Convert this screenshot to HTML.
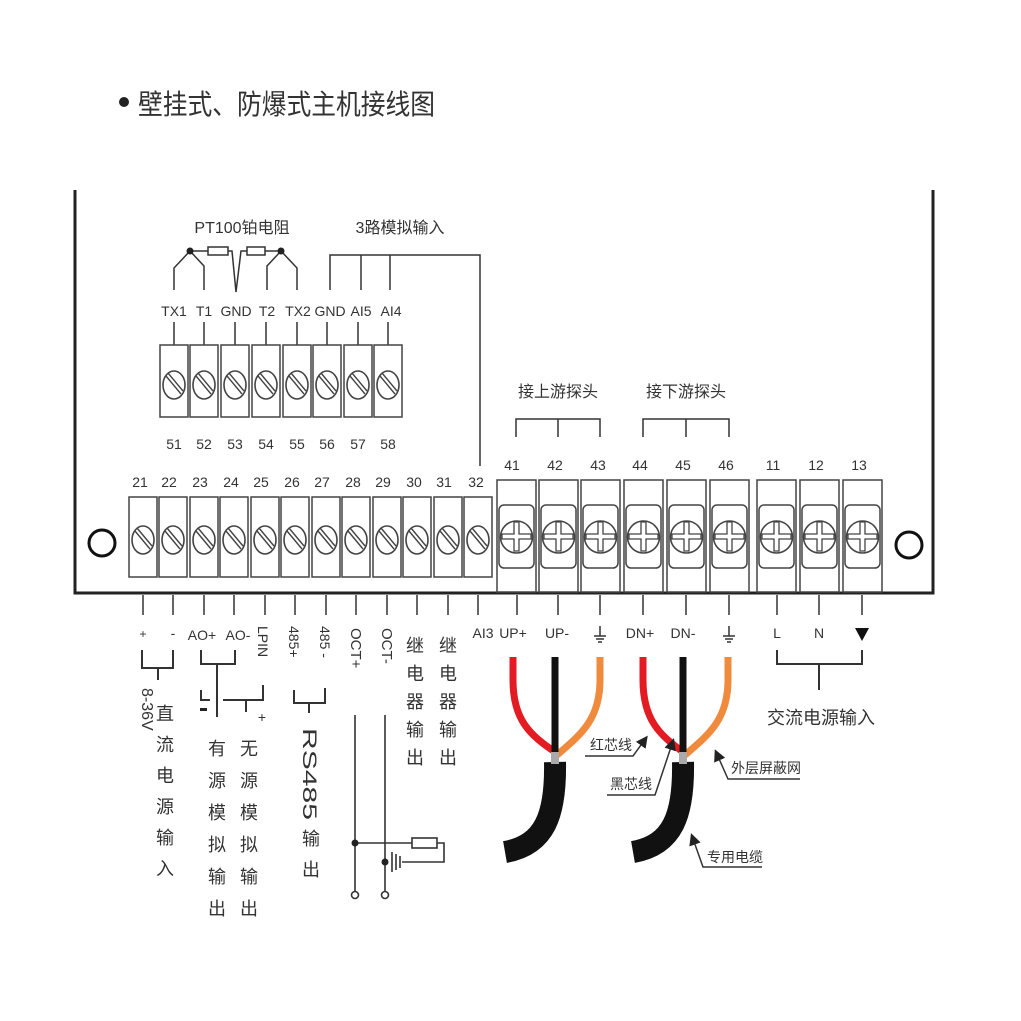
<!DOCTYPE html>
<html><head><meta charset="utf-8"><style>
html,body{margin:0;padding:0;background:#fff;}
svg{display:block;}
text{font-family:"Liberation Sans","Noto Sans CJK SC",sans-serif;fill:#333;}
.cj{font-family:"Noto Sans CJK SC","WenQuanYi Zen Hei",sans-serif;}
</style></head><body>
<svg width="1021" height="1021" viewBox="0 0 1021 1021" xmlns="http://www.w3.org/2000/svg">
<defs>
<g id="st">
<rect x="0" y="0" width="28" height="80" fill="#fff" stroke="#444" stroke-width="1.5"/>
<ellipse cx="14" cy="43" rx="11" ry="14" fill="none" stroke="#444" stroke-width="1.6"/>
<line x1="6" y1="34" x2="21" y2="52" stroke="#444" stroke-width="1.4"/>
<line x1="8" y1="31" x2="23" y2="49" stroke="#444" stroke-width="1.4"/>
</g>
<g id="st2">
<rect x="0" y="0" width="28" height="72" fill="#fff" stroke="#444" stroke-width="1.5"/>
<ellipse cx="14" cy="40" rx="11" ry="14" fill="none" stroke="#444" stroke-width="1.6"/>
<line x1="6" y1="31" x2="21" y2="49" stroke="#444" stroke-width="1.4"/>
<line x1="8" y1="28" x2="23" y2="46" stroke="#444" stroke-width="1.4"/>
</g>
<g id="ct">
<rect x="0" y="0" width="39" height="112" fill="#fff" stroke="#444" stroke-width="1.5"/>
<rect x="2" y="25" width="35" height="63" rx="5" fill="none" stroke="#444" stroke-width="1.5"/>
<circle cx="19.5" cy="57" r="16" fill="none" stroke="#444" stroke-width="1.6"/>
<path d="M17 42 h5 v12 h12 v5 h-12 v12 h-5 v-12 h-12 v-5 h12 z" fill="none" stroke="#444" stroke-width="1.3"/>
</g>
<marker id="ar" markerWidth="8" markerHeight="8" refX="6" refY="4" orient="auto"><path d="M0 0 L8 4 L0 8 z" fill="#222"/></marker>
</defs>

<circle cx="124" cy="102" r="5" fill="#222"/>
<text x="138" y="114" class="cj" font-size="28" textLength="297" lengthAdjust="spacingAndGlyphs" fill="#333">壁挂式、防爆式主机接线图</text>

<path d="M75 190 V593 H933 V190" fill="none" stroke="#222" stroke-width="3"/>
<circle cx="102" cy="543" r="13" fill="none" stroke="#111" stroke-width="3"/>
<circle cx="909" cy="545" r="13" fill="none" stroke="#111" stroke-width="3"/>

<text x="242" y="233" font-size="16" text-anchor="middle">PT100<tspan class="cj">铂电阻</tspan></text>
<text x="400" y="233" font-size="16" text-anchor="middle">3<tspan class="cj">路模拟输入</tspan></text>
<path d="M330 290 V255 H480 V466 M361 255 V290 M390 255 V290" fill="none" stroke="#333" stroke-width="1.5"/>

<g fill="none" stroke="#333" stroke-width="1.5">
<path d="M190 251 L174 268 V290 M190 251 L204 266 V290"/>
<path d="M190 251 H208 M228 251 H232 L236 292 L241 251 H247 M265 251 H281"/>
<rect x="208" y="247" width="20" height="8"/>
<rect x="247" y="247" width="18" height="8"/>
<path d="M281 251 L267 266 V290 M281 251 L297 268 V290"/>
</g>
<circle cx="190" cy="251" r="3.5" fill="#222"/>
<circle cx="281" cy="251" r="3.5" fill="#222"/>

<g font-size="14" text-anchor="middle">
<text x="174" y="316">TX1</text><text x="204" y="316">T1</text><text x="236" y="316">GND</text><text x="267" y="316">T2</text>
<text x="298" y="316">TX2</text><text x="330" y="316">GND</text><text x="361" y="316">AI5</text><text x="391" y="316">AI4</text>
</g>
<path d="M174 322V345 M204 322V345 M235 322V345 M266 322V345 M297 322V345 M327 322V345 M358 322V345 M388 322V345" stroke="#333" stroke-width="1.5"/>

<use href="#st2" x="160" y="345"/><use href="#st2" x="190" y="345"/><use href="#st2" x="221" y="345"/><use href="#st2" x="252" y="345"/>
<use href="#st2" x="283" y="345"/><use href="#st2" x="313" y="345"/><use href="#st2" x="344" y="345"/><use href="#st2" x="374" y="345"/>
<g font-size="14" text-anchor="middle">
<text x="174" y="449">51</text><text x="204" y="449">52</text><text x="235" y="449">53</text><text x="266" y="449">54</text>
<text x="297" y="449">55</text><text x="327" y="449">56</text><text x="358" y="449">57</text><text x="388" y="449">58</text>
</g>

<g>
<use href="#st" x="129" y="497"/><use href="#st" x="159" y="497"/><use href="#st" x="190" y="497"/><use href="#st" x="220" y="497"/>
<use href="#st" x="251" y="497"/><use href="#st" x="281" y="497"/><use href="#st" x="312" y="497"/><use href="#st" x="342" y="497"/>
<use href="#st" x="373" y="497"/><use href="#st" x="403" y="497"/><use href="#st" x="434" y="497"/><use href="#st" x="464" y="497"/>
</g>
<g font-size="14" text-anchor="middle">
<text x="140" y="487">21</text><text x="169" y="487">22</text><text x="200" y="487">23</text><text x="231" y="487">24</text>
<text x="261" y="487">25</text><text x="292" y="487">26</text><text x="322" y="487">27</text><text x="353" y="487">28</text>
<text x="383" y="487">29</text><text x="414" y="487">30</text><text x="444" y="487">31</text><text x="476" y="487">32</text>
</g>

<use href="#ct" x="497" y="480"/><use href="#ct" x="539" y="480"/><use href="#ct" x="581" y="480"/>
<use href="#ct" x="624" y="480"/><use href="#ct" x="667" y="480"/><use href="#ct" x="710" y="480"/>
<use href="#ct" x="757" y="480"/><use href="#ct" x="800" y="480"/><use href="#ct" x="843" y="480"/>
<g font-size="14" text-anchor="middle">
<text x="512" y="470">41</text><text x="555" y="470">42</text><text x="598" y="470">43</text>
<text x="640" y="470">44</text><text x="683" y="470">45</text><text x="726" y="470">46</text>
<text x="773" y="470">11</text><text x="816" y="470">12</text><text x="859" y="470">13</text>
</g>
<text x="558" y="397" class="cj" font-size="16" text-anchor="middle">接上游探头</text>
<text x="686" y="397" class="cj" font-size="16" text-anchor="middle">接下游探头</text>
<path d="M516 437V419H600V437 M558 419V437 M643 437V419H729V437 M686 419V437" fill="none" stroke="#333" stroke-width="1.5"/>

<path d="M143 595V615 M173 595V615 M204 595V615 M234 595V615 M265 595V615 M295 595V615 M326 595V615 M356 595V615 M387 595V615 M417 595V615 M448 595V615 M478 595V615 M517 595V615 M558 595V615 M600 595V615 M643 595V615 M686 595V615 M729 595V615 M777 595V615 M819 595V615 M862 595V615" stroke="#333" stroke-width="1.5"/>

<text x="143" y="638" font-size="12" text-anchor="middle">+</text>
<text x="173" y="638" font-size="14" text-anchor="middle">-</text>
<path d="M142 650V668H173V650 M158 668V680" fill="none" stroke="#333" stroke-width="2"/>
<text transform="translate(142,688) rotate(90)" font-size="16">8-36V</text>
<g class="cj" font-size="18" text-anchor="middle">
<text x="165" y="720">直</text><text x="165" y="751">流</text><text x="165" y="782">电</text>
<text x="165" y="813">源</text><text x="165" y="844">输</text><text x="165" y="875">入</text>
</g>

<text x="202" y="640" font-size="14" text-anchor="middle">AO+</text>
<text x="238" y="640" font-size="14" text-anchor="middle">AO-</text>
<text transform="translate(258,626) rotate(90)" font-size="14">LPIN</text>
<path d="M201 650V664H235V650 M217 664V717 M201 690V700H210 M223 700H263V685 M246 700V712" fill="none" stroke="#333" stroke-width="2"/>
<rect x="200" y="708" width="7" height="3" fill="#222"/>
<text x="262" y="722" font-size="14" text-anchor="middle">+</text>
<g class="cj" font-size="18" text-anchor="middle">
<text x="217" y="755">有</text><text x="217" y="787">源</text><text x="217" y="819">模</text><text x="217" y="851">拟</text><text x="217" y="883">输</text><text x="217" y="915">出</text>
<text x="249" y="755">无</text><text x="249" y="787">源</text><text x="249" y="819">模</text><text x="249" y="851">拟</text><text x="249" y="883">输</text><text x="249" y="915">出</text>
</g>

<text transform="translate(289,626) rotate(90)" font-size="14">485+</text>
<text transform="translate(320,626) rotate(90)" font-size="14">485 -</text>
<path d="M294 690V703H325V688 M309 703V713" fill="none" stroke="#333" stroke-width="2"/>
<text transform="translate(303,728) rotate(90)" font-size="19" textLength="92" lengthAdjust="spacingAndGlyphs">RS485</text>
<text x="311" y="845" class="cj" font-size="18" text-anchor="middle">输</text>
<text x="311" y="876" class="cj" font-size="18" text-anchor="middle">出</text>

<text transform="translate(351,628) rotate(90)" font-size="15">OCT+</text>
<text transform="translate(382,628) rotate(90)" font-size="15">OCT-</text>
<g fill="none" stroke="#333" stroke-width="1.6">
<path d="M355 715V891 M385 715V891"/>
<path d="M355 843H412 M437 843H444V862H402"/>
<rect x="412" y="838" width="25" height="10"/>
<path d="M392 852V872 M396 854V870 M400 856V868"/>
<circle cx="355" cy="895" r="3.5"/><circle cx="385" cy="895" r="3.5"/>
</g>
<circle cx="355" cy="843" r="3.5" fill="#222"/>
<circle cx="385" cy="862" r="3.5" fill="#222"/>

<g class="cj" font-size="18" text-anchor="middle">
<text x="415" y="652">继</text><text x="415" y="680">电</text><text x="415" y="708">器</text><text x="415" y="736">输</text><text x="415" y="764">出</text>
<text x="448" y="652">继</text><text x="448" y="680">电</text><text x="448" y="708">器</text><text x="448" y="736">输</text><text x="448" y="764">出</text>
</g>

<g font-size="14" text-anchor="middle">
<text x="483" y="638">AI3</text><text x="513" y="638">UP+</text><text x="557" y="638">UP-</text>
<text x="640" y="638">DN+</text><text x="683" y="638">DN-</text>
<text x="777" y="638">L</text><text x="819" y="638">N</text>
</g>
<path d="M855 628H869L862 641Z" fill="#111"/>
<g stroke="#333" stroke-width="1.5" fill="none">
<path d="M600 626V636 M594 636H606 M596 639H604 M598 642H602"/>
<path d="M729 626V636 M723 636H735 M725 639H733 M727 642H731"/>
</g>
<path d="M777 650V664H862V650 M819 664V690" fill="none" stroke="#333" stroke-width="2"/>
<text x="821" y="724" class="cj" font-size="18" text-anchor="middle">交流电源输入</text>

<g fill="none" stroke-linecap="butt">
<path d="M513 657 V680 C513 720 530 735 555 752" stroke="#e31b23" stroke-width="7"/>
<path d="M600 657 V680 C600 720 580 735 557 755" stroke="#f08a3c" stroke-width="7"/>
<path d="M555 657 V760" stroke="#111" stroke-width="7"/>
<path d="M555 762 C556 815 545 845 505 852" stroke="#111" stroke-width="22"/>
<path d="M643 657 V680 C643 720 660 735 683 752" stroke="#e31b23" stroke-width="7"/>
<path d="M728 657 V680 C728 720 708 735 685 755" stroke="#f08a3c" stroke-width="7"/>
<path d="M683 657 V760" stroke="#111" stroke-width="7"/>
<path d="M683 762 C684 815 673 845 633 852" stroke="#111" stroke-width="22"/>
</g>
<rect x="551" y="752" width="8" height="12" fill="#aaa"/>
<rect x="679" y="752" width="8" height="12" fill="#aaa"/>

<g fill="none" stroke="#333" stroke-width="1.5">
<path d="M585 756H633 L646 738" marker-end="url(#ar)"/>
<path d="M607 795H655 L673 741" marker-end="url(#ar)"/>
<path d="M800 779H728 L716 752" marker-end="url(#ar)"/>
<path d="M762 867H703 L692 836" marker-end="url(#ar)"/>
</g>
<g class="cj" font-size="14">
<text x="590" y="750">红芯线</text>
<text x="610" y="789">黑芯线</text>
<text x="731" y="773">外层屏蔽网</text>
<text x="707" y="862">专用电缆</text>
</g>
</svg>
</body></html>
